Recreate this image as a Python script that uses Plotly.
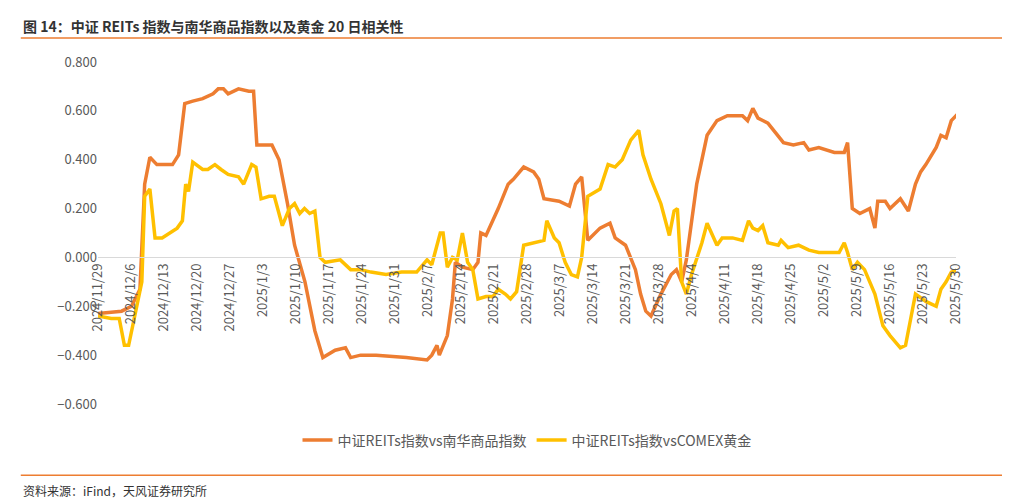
import pandas as pd
import plotly.graph_objects as go

# day offsets from 2024/11/29
orange_x = [0, 5.0, 7.1, 8.9, 9.9, 11.0, 12.5, 15.8, 17.1, 18.4, 20.1, 22.2, 24.4, 25.5, 26.6, 27.6, 29.8, 32.0, 33.0, 33.7,
            36.9, 38.4, 40.2, 41.7, 43.9, 46.0, 47.7, 50.3, 52.5, 53.6, 55.7, 59.0, 65.4, 69.8, 70.8, 71.9, 72.4, 74.1, 75.2, 75.8,
            77.3, 79.5, 80.6, 81.2, 82.3, 84.9, 87.0, 88.1, 90.3, 92.4, 93.5, 94.6, 97.8, 100.0, 101.3, 102.6, 103.9, 106.5, 108.6, 109.7,
            111.9, 114.0, 115.1, 116.2, 117.3, 119.4, 121.6, 122.7, 123.8, 124.8, 127.0, 129.2, 131.3, 133.5, 136.7, 137.8, 138.9, 140.0, 142.1, 144.3,
            145.4, 147.5, 149.7, 150.8, 152.9, 156.2, 158.3, 159.0, 160.0, 161.6, 163.7, 164.8, 165.4, 167.0, 168.0, 170.2, 171.9, 173.4, 174.5, 175.6,
            177.8, 178.8, 179.9, 181.0, 182.5]
orange_y = [-0.23, -0.22, -0.2, -0.13, 0.3, 0.41, 0.38, 0.38, 0.42, 0.63, 0.64, 0.65, 0.67, 0.69, 0.69, 0.67, 0.69, 0.68, 0.68, 0.46,
            0.46, 0.4, 0.22, 0.05, -0.1, -0.3, -0.41, -0.38, -0.37, -0.41, -0.4, -0.4, -0.41, -0.42, -0.4, -0.36, -0.4, -0.32, -0.17, -0.02,
            -0.04, -0.05, -0.02, 0.1, 0.09, 0.2, 0.3, 0.32, 0.37, 0.35, 0.32, 0.24, 0.23, 0.21, 0.3, 0.33, 0.07, 0.12, 0.14, 0.08,
            0.05, -0.05, -0.15, -0.22, -0.24, -0.15, -0.07, -0.05, -0.1, -0.01, 0.3, 0.5, 0.56, 0.58, 0.58, 0.56, 0.61, 0.57, 0.55, 0.5,
            0.47, 0.46, 0.47, 0.44, 0.45, 0.43, 0.43, 0.47, 0.2, 0.18, 0.2, 0.12, 0.23, 0.23, 0.2, 0.24, 0.19, 0.3, 0.35, 0.38,
            0.45, 0.5, 0.49, 0.56, 0.59]

yellow_x = [0, 2.8, 4.5, 5.6, 6.5, 8.2, 9.3, 9.9, 11.0, 12.1, 13.6, 16.8, 17.9, 18.6, 19.2, 20.1, 22.2, 23.3, 24.8, 26.1,
            27.6, 29.8, 30.9, 32.6, 33.5, 34.6, 36.3, 37.4, 39.1, 40.6, 41.7, 42.8, 43.8, 44.9, 46.0, 47.1, 48.2, 51.4, 52.5, 53.6,
            55.7, 57.9, 61.1, 64.4, 67.6, 69.8, 70.8, 72.6, 73.2, 74.1, 75.2, 76.2, 77.3, 78.4, 79.5, 80.6, 82.3, 83.8, 84.9, 86.4,
            87.5, 88.8, 90.3, 92.4, 94.6, 95.2, 96.8, 97.8, 99.1, 100.4, 101.7, 102.6, 103.9, 106.5, 108.2, 109.7, 111.2, 113.0, 114.7, 115.6,
            117.3, 119.4, 121.2, 122.2, 122.9, 123.8, 124.8, 125.9, 128.1, 129.2, 130.2, 131.3, 132.4, 134.6, 136.7, 138.0, 138.9, 140.0, 141.0, 142.1,
            144.3, 144.9, 146.4, 148.6, 150.8, 152.9, 157.2, 158.3, 159.0, 160.0, 161.1, 162.6, 163.7, 164.8, 166.5, 168.0, 170.2, 171.3, 172.4, 173.4,
            175.6, 177.8, 178.8, 179.9, 181.0, 182.5]
yellow_y = [-0.24, -0.25, -0.25, -0.36, -0.36, -0.2, -0.1, 0.25, 0.28, 0.08, 0.08, 0.12, 0.15, 0.3, 0.27, 0.39, 0.36, 0.36, 0.38, 0.36,
            0.34, 0.33, 0.3, 0.38, 0.37, 0.24, 0.25, 0.25, 0.13, 0.2, 0.22, 0.18, 0.2, 0.18, 0.19, 0.0, -0.02, -0.01, -0.03, -0.05,
            -0.05, -0.06, -0.07, -0.06, -0.06, -0.01, -0.03, 0.1, 0.1, -0.04, 0.0, -0.01, 0.1, -0.02, -0.05, -0.17, -0.16, -0.16, -0.13, -0.15,
            -0.17, -0.14, 0.05, 0.06, 0.07, 0.15, 0.08, 0.06, -0.02, -0.07, -0.08, 0.0, 0.25, 0.28, 0.38, 0.37, 0.4, 0.48, 0.52, 0.42,
            0.32, 0.22, 0.09, 0.19, 0.2, -0.1, -0.15, -0.07, 0.06, 0.14, 0.1, 0.05, 0.08, 0.08, 0.07, 0.15, 0.12, 0.11, 0.13, 0.06,
            0.05, 0.07, 0.04, 0.05, 0.03, 0.02, 0.02, 0.06, 0.02, -0.05, -0.02, -0.05, -0.1, -0.15, -0.28, -0.32, -0.37, -0.36, -0.25, -0.15,
            -0.18, -0.2, -0.13, -0.1, -0.06, -0.05]

tick_dates = pd.date_range("2024-11-29", "2025-05-30", freq="7D")
tick_vals = [(d - tick_dates[0]).days for d in tick_dates]
tick_text = [f"{d.year}/{d.month}/{d.day}" for d in tick_dates]

fig = go.Figure()
fig.add_trace(go.Scatter(x=orange_x, y=orange_y, mode="lines", name="中证REITs指数vs南华商品指数",
                         line=dict(color="#ED7D31", width=3.5)))
fig.add_trace(go.Scatter(x=yellow_x, y=yellow_y, mode="lines", name="中证REITs指数vsCOMEX黄金",
                         line=dict(color="#FFC000", width=3.5)))

fig.update_layout(
    width=1010, height=498, plot_bgcolor="white", paper_bgcolor="white",
    margin=dict(l=90, r=62, t=54, b=102),
    font=dict(family="Noto Sans CJK SC", size=13, color="#595959"),
    legend=dict(orientation="h", x=0.5, xanchor="center", y=-0.06, yanchor="top",
                font=dict(size=14, color="#595959")),
    showlegend=True,
)
fig.update_xaxes(range=[0, 182], tickvals=tick_vals, ticktext=tick_text, tickangle=-90,
                 anchor="free", position=0.6 / 1.4, showgrid=False, showline=True,
                 linecolor="#D9D9D9", ticks="", tickfont=dict(size=13, color="#595959"))
fig.update_yaxes(range=[-0.6, 0.8], dtick=0.2, tickformat=".3f", showgrid=False, zeroline=False,
                 tickfont=dict(size=13, color="#595959"))

fig.add_annotation(text="<b>图 14：中证 REITs 指数与南华商品指数以及黄金 20 日相关性</b>", xref="paper", yref="paper",
                   x=-0.09, y=1.0, yshift=48, xanchor="left", yanchor="top", showarrow=False,
                   font=dict(size=14, color="#333333"))
fig.add_shape(type="line", xref="paper", yref="paper", x0=-0.09, x1=1.075, y0=1.07, y1=1.07,
              line=dict(color="#ED7D31", width=1.5))
fig.add_shape(type="line", xref="paper", yref="paper", x0=-0.09, x1=1.075, y0=-0.208, y1=-0.208,
              line=dict(color="#ED7D31", width=1.5))
fig.add_annotation(text="资料来源：iFind，天风证券研究所", xref="paper", yref="paper",
                   x=-0.09, y=0, yshift=-76, xanchor="left", yanchor="top", showarrow=False,
                   font=dict(size=12, color="#333333"))

fig.write_html("out.html")
